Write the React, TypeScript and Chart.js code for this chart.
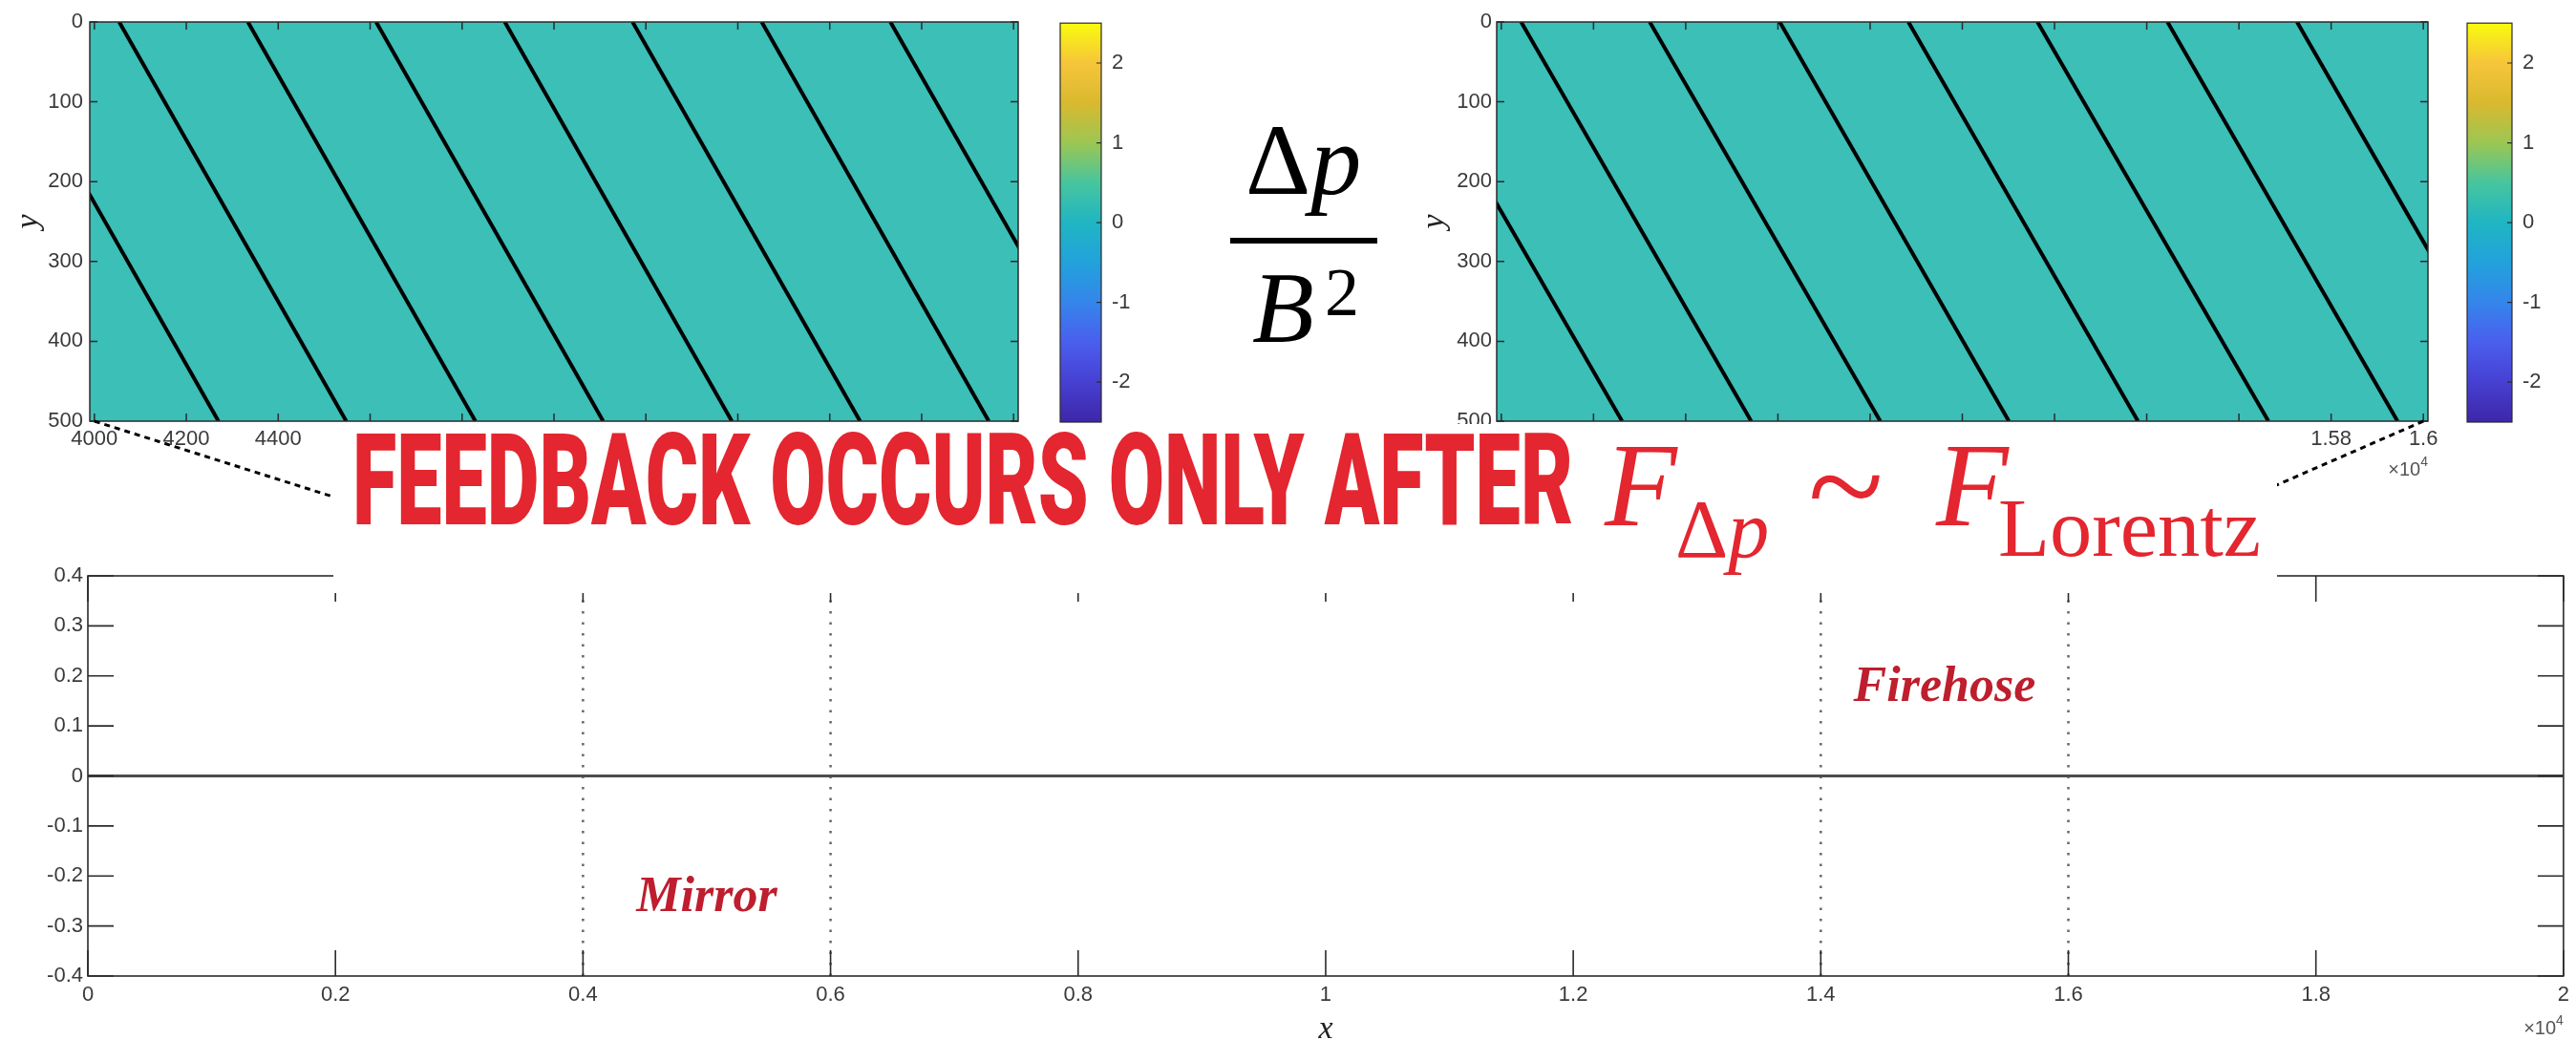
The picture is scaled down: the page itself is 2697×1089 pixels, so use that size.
import React, { useEffect, useRef, useState } from 'react';
import { Chart, registerables } from 'chart.js';

Chart.register(...registerables);

// ---------------- data ----------------
const insetYTicks = [0, 100, 200, 300, 400, 500];
const insetYRange = [0, 500];
const leftInsetXRange = [3990, 6010];
const rightInsetXRange = [13990, 16010];
const leftInsetXTicks = [4000, 4200, 4400, 4600, 4800, 5000, 5200, 5400, 5600, 5800, 6000];
const rightInsetXTicks = [14000, 14200, 14400, 14600, 14800, 15000, 15200, 15400, 15600, 15800, 16000];
// contour lines: x where each line meets y = 0 and y = 500
const leftLineTopX = [3776, 4054, 4334, 4613, 4893, 5171, 5452, 5732];
const leftLineBottomX = [4270, 4548, 4829, 5107, 5387, 5666, 5946, 6227];
const rightLineTopX = [13763, 14043, 14322, 14604, 14883, 15163, 15445, 15726];
const rightLineBottomX = [14262, 14542, 14822, 15101, 15381, 15664, 15944, 16224];

const colorbarRange = [-2.5, 2.5];
const colorbarTicks = [-2, -1, 0, 1, 2];
const parulaStops = ['#3E26A8', '#4640D2', '#4A5EEE', '#3585EB', '#22A2DB', '#20B5C3', '#47C59E', '#9CC653', '#D9B92F', '#F6C53A', '#F9FB0E'];

const mainXRange = [0, 20000];
const mainYRange = [-0.4, 0.4];
const mainXTicks = [0, 2000, 4000, 6000, 8000, 10000, 12000, 14000, 16000, 18000, 20000];
const mainYTicks = [-0.4, -0.3, -0.2, -0.1, 0, 0.1, 0.2, 0.3, 0.4];
const mainX = [0, 5000, 10000, 15000, 20000];
const mainDeltaP = [0, 0, 0, 0, 0];
const mirrorBounds = [4000, 6000];
const firehoseBounds = [14000, 16000];
const regionLabels = ['Mirror', 'Firehose'];
const regionLabelY = [-0.27, 0.15];

// ---------------- styles ----------------
const SANS = "'Liberation Sans', Arial, Helvetica, sans-serif";
const SERIF = "'Liberation Serif', 'Times New Roman', Times, serif";
const TICK_COLOR = '#3a3a3a';
const AXIS_COLOR = '#2b2b2b';
const HEAT_FILL = '#3BBFB7';
const RED = '#E3262F';
const DARK_RED = '#BE1E2D';

const fixedTicks = (values: number[]) => (scale: any) => {
  scale.ticks = values.map((v) => ({ value: v }));
};

function drawBoxTicks(chart: any, len: number, color: string, lw: number) {
  const { ctx, chartArea: a, scales } = chart;
  ctx.save();
  ctx.strokeStyle = color;
  ctx.lineWidth = lw;
  ctx.strokeRect(a.left, a.top, a.right - a.left, a.bottom - a.top);
  ctx.beginPath();
  scales.x.ticks.forEach((t: any) => {
    const px = scales.x.getPixelForValue(t.value);
    if (px < a.left - 0.5 || px > a.right + 0.5) return;
    ctx.moveTo(px, a.bottom);
    ctx.lineTo(px, a.bottom - len);
    ctx.moveTo(px, a.top);
    ctx.lineTo(px, a.top + len);
  });
  scales.y.ticks.forEach((t: any) => {
    const py = scales.y.getPixelForValue(t.value);
    if (py < a.top - 0.5 || py > a.bottom + 0.5) return;
    ctx.moveTo(a.left, py);
    ctx.lineTo(a.left + len, py);
    ctx.moveTo(a.right, py);
    ctx.lineTo(a.right - len, py);
  });
  ctx.stroke();
  ctx.restore();
}

function drawExponent(ctx: CanvasRenderingContext2D, right: number, baseline: number) {
  ctx.save();
  ctx.fillStyle = '#555';
  ctx.textAlign = 'right';
  ctx.textBaseline = 'alphabetic';
  ctx.font = `14px ${SANS}`;
  const w4 = ctx.measureText('4').width;
  ctx.fillText('4', right, baseline - 10);
  ctx.font = `20px ${SANS}`;
  ctx.fillText('\u00D710', right - w4, baseline);
  ctx.restore();
}

const insetDecor = {
  id: 'insetDecor',
  beforeDatasetsDraw(chart: any) {
    const { ctx, chartArea: a } = chart;
    ctx.save();
    ctx.fillStyle = HEAT_FILL;
    ctx.fillRect(a.left, a.top, a.right - a.left, a.bottom - a.top);
    ctx.restore();
  },
  afterDraw(chart: any, _args: any, opts: any) {
    drawBoxTicks(chart, 8, AXIS_COLOR, 1.5);
    if (opts && opts.exponent) drawExponent(chart.ctx, chart.chartArea.right, chart.chartArea.bottom + 57);
  },
};

const colorbarDecor = {
  id: 'colorbarDecor',
  afterDraw(chart: any) {
    const { ctx, chartArea: a, scales } = chart;
    ctx.save();
    ctx.strokeStyle = AXIS_COLOR;
    ctx.lineWidth = 1.2;
    ctx.strokeRect(a.left, a.top, a.right - a.left, a.bottom - a.top);
    ctx.beginPath();
    scales.y.ticks.forEach((t: any) => {
      const py = scales.y.getPixelForValue(t.value);
      ctx.moveTo(a.right, py);
      ctx.lineTo(a.right - 5, py);
    });
    ctx.stroke();
    ctx.restore();
  },
};

const mainDecor = {
  id: 'mainDecor',
  afterDatasetsDraw(chart: any) {
    const { ctx, scales } = chart;
    const bounds = [mirrorBounds, firehoseBounds];
    ctx.save();
    ctx.fillStyle = DARK_RED;
    ctx.font = `italic bold 52px ${SERIF}`;
    ctx.textAlign = 'center';
    ctx.textBaseline = 'alphabetic';
    regionLabels.forEach((lab, i) => {
      const cx = scales.x.getPixelForValue((bounds[i][0] + bounds[i][1]) / 2);
      const cy = scales.y.getPixelForValue(regionLabelY[i]);
      ctx.fillText(lab, cx, cy);
    });
    ctx.restore();
  },
  afterDraw(chart: any) {
    drawBoxTicks(chart, 27, AXIS_COLOR, 1.6);
    drawExponent(chart.ctx, chart.chartArea.right, chart.chartArea.bottom + 61);
  },
};

function insetConfig(p: any) {
  return {
    type: 'scatter',
    data: {
      datasets: p.topX.map((t: number, i: number) => ({
        data: [
          { x: t, y: insetYRange[0] },
          { x: p.bottomX[i], y: insetYRange[1] },
        ],
        showLine: true,
        borderColor: '#000',
        borderWidth: 4,
        pointRadius: 0,
        clip: 0,
      })),
    },
    options: {
      animation: false,
      responsive: false,
      devicePixelRatio: 1,
      events: [],
      layout: { padding: p.padding },
      plugins: { legend: { display: false }, tooltip: { enabled: false }, insetDecor: { exponent: p.exponent } },
      scales: {
        x: {
          type: 'linear',
          min: p.xRange[0],
          max: p.xRange[1],
          afterBuildTicks: fixedTicks(p.xTicks),
          afterFit: (s: any) => {
            s.height = 45;
          },
          grid: { display: false, drawTicks: false, tickLength: 0 },
          border: { display: false },
          ticks: { padding: 6, font: { family: SANS, size: 22 }, color: TICK_COLOR, maxRotation: 0, autoSkip: false, callback: p.xFmt },
        },
        y: {
          type: 'linear',
          reverse: true,
          min: insetYRange[0],
          max: insetYRange[1],
          afterBuildTicks: fixedTicks(insetYTicks),
          afterFit: (s: any) => {
            s.width = p.yWidth;
          },
          grid: { display: false, drawTicks: false, tickLength: 0 },
          border: { display: false },
          ticks: { padding: p.yPad, font: { family: SANS, size: 22 }, color: TICK_COLOR, autoSkip: false, callback: (v: number) => String(v) },
          title: { display: true, text: 'y', color: '#222', font: { family: SERIF, style: 'italic', size: 34 }, padding: { top: p.titlePad, bottom: 0 } },
        },
      },
    },
    plugins: [insetDecor],
  };
}

function colorbarConfig() {
  return {
    type: 'bar',
    data: {
      labels: [''],
      datasets: [
        {
          data: [colorbarRange],
          borderWidth: 0,
          barPercentage: 1,
          categoryPercentage: 1,
          backgroundColor: (c: any) => {
            const a = c.chart.chartArea;
            if (!a) return parulaStops[5];
            const g = c.chart.ctx.createLinearGradient(0, a.bottom, 0, a.top);
            parulaStops.forEach((col, i) => g.addColorStop(i / (parulaStops.length - 1), col));
            return g;
          },
        },
      ],
    },
    options: {
      animation: false,
      responsive: false,
      devicePixelRatio: 1,
      events: [],
      layout: { padding: { left: 20, top: 23, right: 27, bottom: 58 } },
      plugins: { legend: { display: false }, tooltip: { enabled: false } },
      scales: {
        x: { display: false },
        y: {
          type: 'linear',
          position: 'right',
          min: colorbarRange[0],
          max: colorbarRange[1],
          afterBuildTicks: fixedTicks(colorbarTicks),
          afterFit: (s: any) => {
            s.width = 40;
          },
          grid: { display: false, drawTicks: false, tickLength: 0 },
          border: { display: false },
          ticks: { padding: 11, font: { family: SANS, size: 22 }, color: TICK_COLOR, callback: (v: number) => String(v) },
        },
      },
    },
    plugins: [colorbarDecor],
  };
}

function mainConfig() {
  const boundLines = [...mirrorBounds, ...firehoseBounds].map((b) => ({
    data: [
      { x: b, y: mainYRange[0] },
      { x: b, y: mainYRange[1] },
    ],
    showLine: true,
    borderColor: '#666',
    borderWidth: 2.5,
    borderDash: [2.5, 9],
    pointRadius: 0,
  }));
  return {
    type: 'scatter',
    data: {
      datasets: [
        {
          label: '\u0394p/B\u00B2',
          data: mainX.map((x, i) => ({ x, y: mainDeltaP[i] })),
          showLine: true,
          borderColor: '#4d4d4d',
          borderWidth: 3,
          pointRadius: 0,
        },
        ...boundLines,
      ],
    },
    options: {
      animation: false,
      responsive: false,
      devicePixelRatio: 1,
      events: [],
      layout: { padding: { left: 0, top: 43, right: 10, bottom: 0 } },
      plugins: { legend: { display: false }, tooltip: { enabled: false } },
      scales: {
        x: {
          type: 'linear',
          min: mainXRange[0],
          max: mainXRange[1],
          afterBuildTicks: fixedTicks(mainXTicks),
          afterFit: (s: any) => {
            s.height = 67;
          },
          grid: { display: false, drawTicks: false, tickLength: 0 },
          border: { display: false },
          ticks: { padding: 7, font: { family: SANS, size: 22 }, color: TICK_COLOR, maxRotation: 0, autoSkip: false, callback: (v: number) => String(v / 10000) },
          title: { display: true, text: 'x', color: '#222', font: { family: SERIF, style: 'italic', size: 34, lineHeight: 0.65 }, padding: { top: 0, bottom: 0 } },
        },
        y: {
          type: 'linear',
          min: mainYRange[0],
          max: mainYRange[1],
          afterBuildTicks: fixedTicks(mainYTicks),
          afterFit: (s: any) => {
            s.width = 92;
          },
          grid: { display: false, drawTicks: false, tickLength: 0 },
          border: { display: false },
          ticks: { padding: 5, font: { family: SANS, size: 22 }, color: TICK_COLOR, autoSkip: false, callback: (v: number) => String(v) },
        },
      },
    },
    plugins: [mainDecor],
  };
}

// canvas placements
const LEFT_INSET = { left: 0, top: 0, width: 1100, height: 500 };
const LEFT_CB = { left: 1090, top: 0, width: 130, height: 500 };
const RIGHT_INSET = { left: 1470, top: 0, width: 1110, height: 520 };
const RIGHT_CB = { left: 2563, top: 0, width: 134, height: 500 };
const MAIN = { left: 0, top: 560, width: 2697, height: 529 };

export default function App() {
  const leftRef = useRef<HTMLCanvasElement>(null);
  const leftCbRef = useRef<HTMLCanvasElement>(null);
  const rightRef = useRef<HTMLCanvasElement>(null);
  const rightCbRef = useRef<HTMLCanvasElement>(null);
  const mainRef = useRef<HTMLCanvasElement>(null);
  const [conn, setConn] = useState<any>(null);

  useEffect(() => {
    document.body.style.margin = '0';
    const left = new Chart(leftRef.current as any, insetConfig({
      topX: leftLineTopX,
      bottomX: leftLineBottomX,
      xRange: leftInsetXRange,
      xTicks: leftInsetXTicks,
      xFmt: (v: number) => String(v),
      yWidth: 94,
      yPad: 7,
      titlePad: 10,
      padding: { left: 0, top: 23, right: 34, bottom: 14 },
      exponent: false,
    }) as any);
    const leftCb = new Chart(leftCbRef.current as any, colorbarConfig() as any);
    const right = new Chart(rightRef.current as any, insetConfig({
      topX: rightLineTopX,
      bottomX: rightLineBottomX,
      xRange: rightInsetXRange,
      xTicks: rightInsetXTicks,
      xFmt: (v: number) => String(v / 10000),
      yWidth: 97,
      yPad: 5,
      titlePad: 12,
      padding: { left: 0, top: 23, right: 38, bottom: 34 },
      exponent: true,
    }) as any);
    const rightCb = new Chart(rightCbRef.current as any, colorbarConfig() as any);
    const main = new Chart(mainRef.current as any, mainConfig() as any);

    const lx = LEFT_INSET.left + left.scales.x.getPixelForValue(leftInsetXTicks[0]);
    const ly = LEFT_INSET.top + left.chartArea.bottom;
    const rx = RIGHT_INSET.left + right.scales.x.getPixelForValue(rightInsetXTicks[rightInsetXTicks.length - 1]);
    const ry = RIGHT_INSET.top + right.chartArea.bottom;
    const mlx = MAIN.left + main.scales.x.getPixelForValue(mirrorBounds[0]);
    const mrx = MAIN.left + main.scales.x.getPixelForValue(firehoseBounds[1]);
    const my = MAIN.top + main.chartArea.top;
    setConn({ l: [lx, ly, mlx, my], r: [rx, ry, mrx, my] });

    return () => {
      left.destroy();
      leftCb.destroy();
      right.destroy();
      rightCb.destroy();
      main.destroy();
    };
  }, []);

  const place = (p: any): React.CSSProperties => ({ position: 'absolute', left: p.left, top: p.top, width: p.width, height: p.height });

  return (
    <div style={{ position: 'absolute', left: 0, top: 0, width: 2697, height: 1089, background: '#fff', overflow: 'hidden' }}>
      <canvas ref={leftRef} width={LEFT_INSET.width} height={LEFT_INSET.height} style={place(LEFT_INSET)} />
      <canvas ref={leftCbRef} width={LEFT_CB.width} height={LEFT_CB.height} style={place(LEFT_CB)} />
      <canvas ref={rightRef} width={RIGHT_INSET.width} height={RIGHT_INSET.height} style={place(RIGHT_INSET)} />
      <canvas ref={rightCbRef} width={RIGHT_CB.width} height={RIGHT_CB.height} style={place(RIGHT_CB)} />
      <canvas ref={mainRef} width={MAIN.width} height={MAIN.height} style={place(MAIN)} />
      <svg width={2697} height={1089} style={{ position: 'absolute', left: 0, top: 0, pointerEvents: 'none' }}>
        {conn && (
          <g stroke="#000" strokeWidth={3} strokeDasharray="6 5">
            <line x1={conn.l[0]} y1={conn.l[1]} x2={conn.l[2]} y2={conn.l[3]} />
            <line x1={conn.r[0]} y1={conn.r[1]} x2={conn.r[2]} y2={conn.r[3]} />
          </g>
        )}
        <rect x={349} y={444} width={2035} height={177} fill="#fff" />
        <text
          x={369}
          y={549}
          fontFamily="Roboto, 'Liberation Sans', sans-serif"
          fontWeight={900}
          fontSize={134}
          fill={RED}
          textLength={1278}
          lengthAdjust="spacingAndGlyphs"
        >
          FEEDBACK OCCURS ONLY AFTER
        </text>
        <text x={1680} y={550} fontFamily={SERIF} fontStyle="italic" fontSize={124} fill={RED}>F</text>
        <text x={1754} y={583} fontFamily={SERIF} fontSize={86} fill={RED}>
          {'\u0394'}
          <tspan fontStyle="italic">p</tspan>
        </text>
        <text x={1893} y={558} fontFamily={SERIF} fontSize={146} fill={RED}>~</text>
        <text x={2027} y={550} fontFamily={SERIF} fontStyle="italic" fontSize={124} fill={RED}>F</text>
        <text x={2092} y={582} fontFamily={SERIF} fontSize={86} fill={RED} textLength={275} lengthAdjust="spacingAndGlyphs">Lorentz</text>
        <text x={1304} y={203} fontFamily={SERIF} fontSize={106} fill="#000">
          {'\u0394'}
          <tspan fontStyle="italic">p</tspan>
        </text>
        <rect x={1288} y={249} width={154} height={6} fill="#000" />
        <text x={1311} y={358} fontFamily={SERIF} fontStyle="italic" fontSize={106} fill="#000">B</text>
        <text x={1387} y={330} fontFamily={SERIF} fontSize={72} fill="#000">2</text>
      </svg>
    </div>
  );
}
